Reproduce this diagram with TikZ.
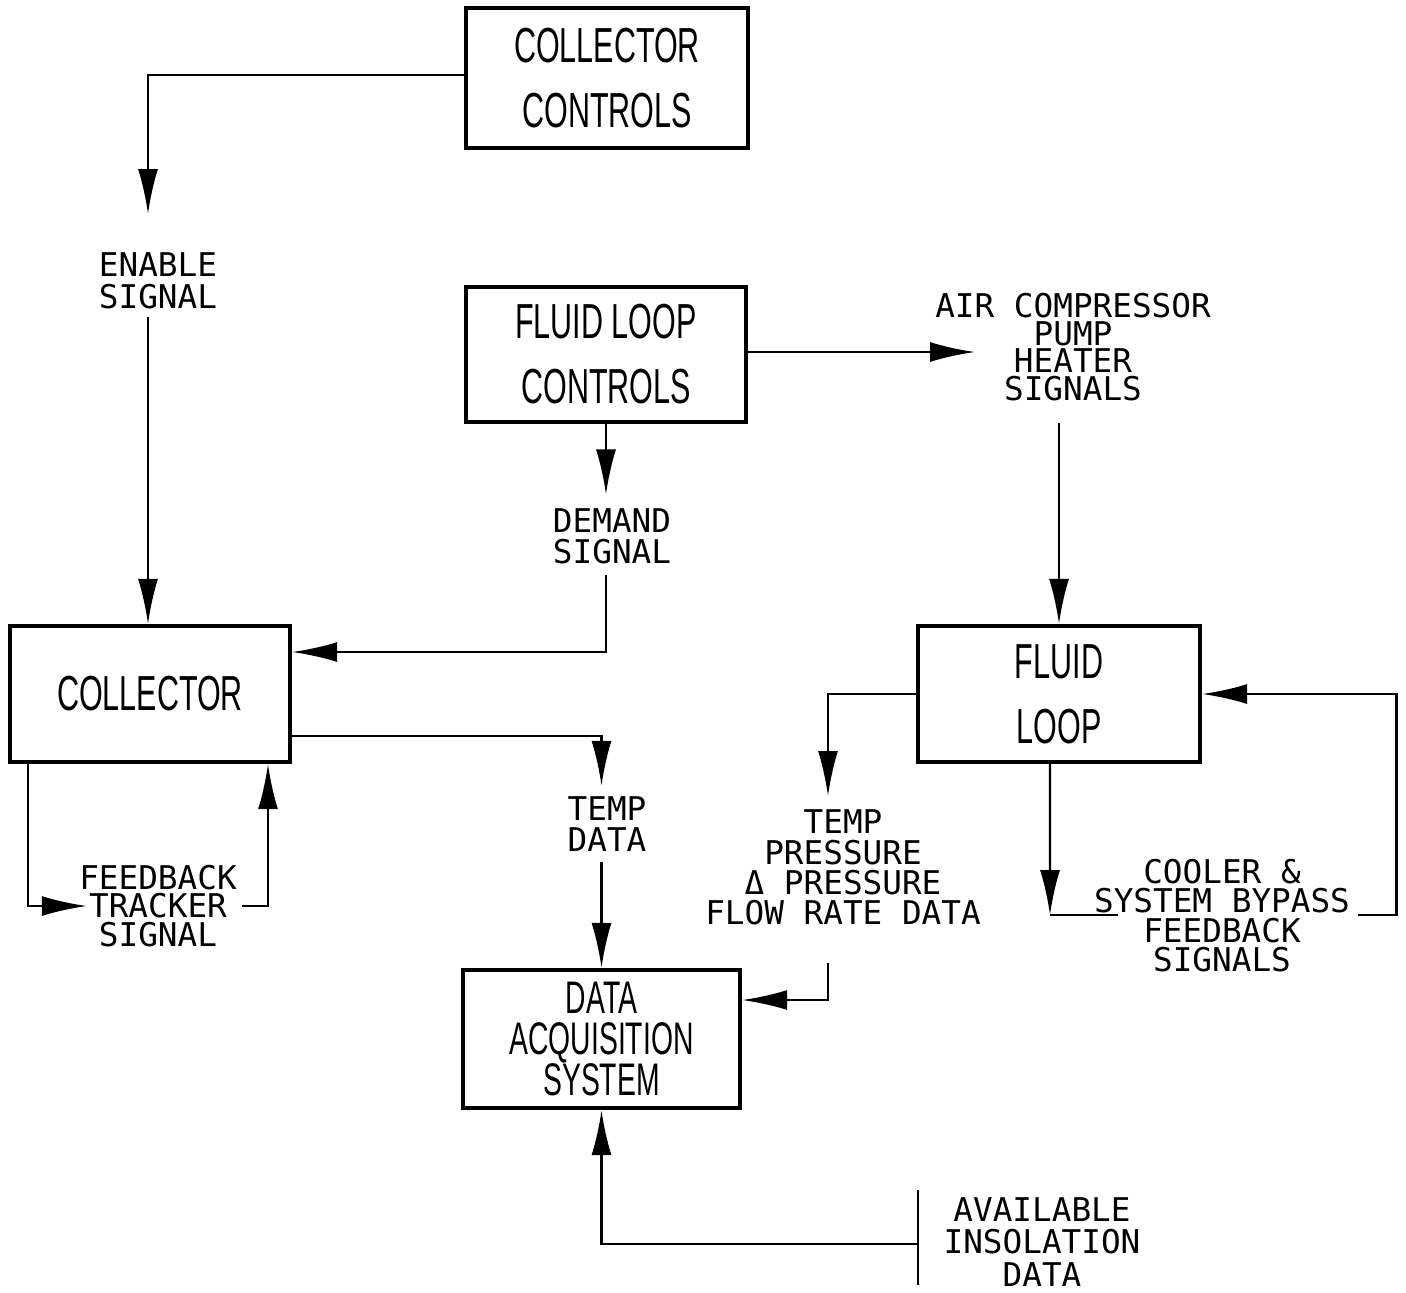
\documentclass[tikz,border=0pt]{standalone}
\usepackage{fontspec}
\usetikzlibrary{arrows.meta}
\newfontfamily\boxfont[FakeStretch=0.62]{Liberation Sans}
\newfontfamily\sigfont{DejaVu Sans Mono}

\begin{document}
\begin{tikzpicture}[
    box/.style={rectangle, draw, line width=1.2pt, minimum width=2.8cm, minimum height=1.37cm, inner sep=0pt, align=center, font=\boxfont\fontsize{14}{18.5}\selectfont},
    sig/.style={align=center, inner sep=0.5pt, font=\sigfont\fontsize{9.3}{#1}\selectfont},
    sig/.default=9,
    arrow/.style={-{Latex[length=4.5mm,width=2mm]}, line width=0.7pt},
    wire/.style={line width=0.7pt}
]
    \useasboundingbox (0,0) rectangle (14.06,-12.92);

    % blocks
    \node (cc) at (6.07, -0.78) [box, minimum width=2.82cm, minimum height=1.40cm] {COLLECTOR\\CONTROLS};
    \node (flc) at (6.06, -3.545) [box, minimum height=1.35cm] {FLUID LOOP\\CONTROLS};
    \node (coll) at (1.50, -6.94) [box, minimum height=1.36cm] {COLLECTOR};
    \node (fl) at (10.59, -6.94) [box, minimum width=2.82cm, minimum height=1.36cm] {FLUID\\LOOP};
    \node (das) at (6.015, -10.39) [box, minimum width=2.77cm, minimum height=1.38cm, font=\boxfont\fontsize{13}{11.8}\selectfont] {DATA\\ACQUISITION\\SYSTEM};

    % signal labels
    \node (enable) at (1.58, -2.81) [sig] {ENABLE\\SIGNAL};
    \node (air) at (10.73, -3.47) [sig=7.9] {AIR COMPRESSOR\\PUMP\\HEATER\\SIGNALS};
    \node (demand) at (6.12, -5.365) [sig=8.8] {DEMAND\\SIGNAL};
    \node (tempdata) at (6.07, -8.24) [sig] {TEMP\\DATA};
    \node (feedback) at (1.58, -9.06) [sig=8] {FEEDBACK\\TRACKER\\SIGNAL};
    \node (tpf) at (8.43, -8.675) [sig=8.6] {TEMP\\PRESSURE\\Δ PRESSURE\\FLOW RATE DATA};
    \node (cooler) at (12.22, -9.155) [sig=8.4] {COOLER \&\\SYSTEM BYPASS\\FEEDBACK\\SIGNALS};
    \node (avail) at (10.42, -12.42) [sig=9.2] {AVAILABLE\\INSOLATION\\DATA};

    \coordinate (enA) at (1.48, -2.14);
    \coordinate (airA) at (9.75, -3.52);
    \coordinate (tpfA) at (8.28, -7.96);
    \coordinate (coolA) at (10.50, -9.15);
    \coordinate (coolB) at (11.18, -9.15);
    \coordinate (availT) at (9.18, -12.44);

    % collector controls
    \draw[arrow] ([yshift=0.3mm]cc.west) -| (enA);
    \draw[arrow] ([yshift=-0.6mm]enable.south -| enA) -- (enA |- coll.north);

    % fluid loop controls
    \draw[arrow] (flc.east |- airA) -- (airA);
    \draw[arrow] ([yshift=-2mm]air.south -| fl.north) -- (fl.north);
    \draw[arrow] (flc.south) -- ([yshift=1.2mm]demand.north -| flc.south);
    \draw[arrow] ([yshift=-0.8mm]demand.south -| flc.south) |- ([yshift=4.2mm]coll.east);

    % collector
    \draw[arrow] ([yshift=-4.2mm]coll.east) -| ([yshift=0.8mm]tempdata.north -| das.north);
    \draw[arrow] ([yshift=-0.8mm]tempdata.south -| das.north) -- (das.north);
    \draw[arrow] ([xshift=-12.2mm]coll.south) |- ([xshift=1mm]feedback.west);
    \draw[arrow] ([xshift=0.3mm]feedback.east) -| ([xshift=11.8mm]coll.south);

    % fluid loop
    \draw[arrow] (fl.west) -| (tpfA);
    \draw[arrow] ([yshift=-3.6mm]tpf.south -| tpfA) |- ([yshift=3.9mm]das.east);
    \draw[arrow] ([xshift=-0.9mm]fl.south) -- (coolA);
    \draw[wire] (coolA) -- (coolB);
    \draw[arrow] ([xshift=0.6mm]cooler.east |- coolA) -- ++(0.38,0) |- (fl.east);

    % insolation
    \draw[wire] (availT) ++(0,0.54) -- ++(0,-0.95);
    \draw[arrow] (availT) -| (das.south);

\end{tikzpicture}
\end{document}
